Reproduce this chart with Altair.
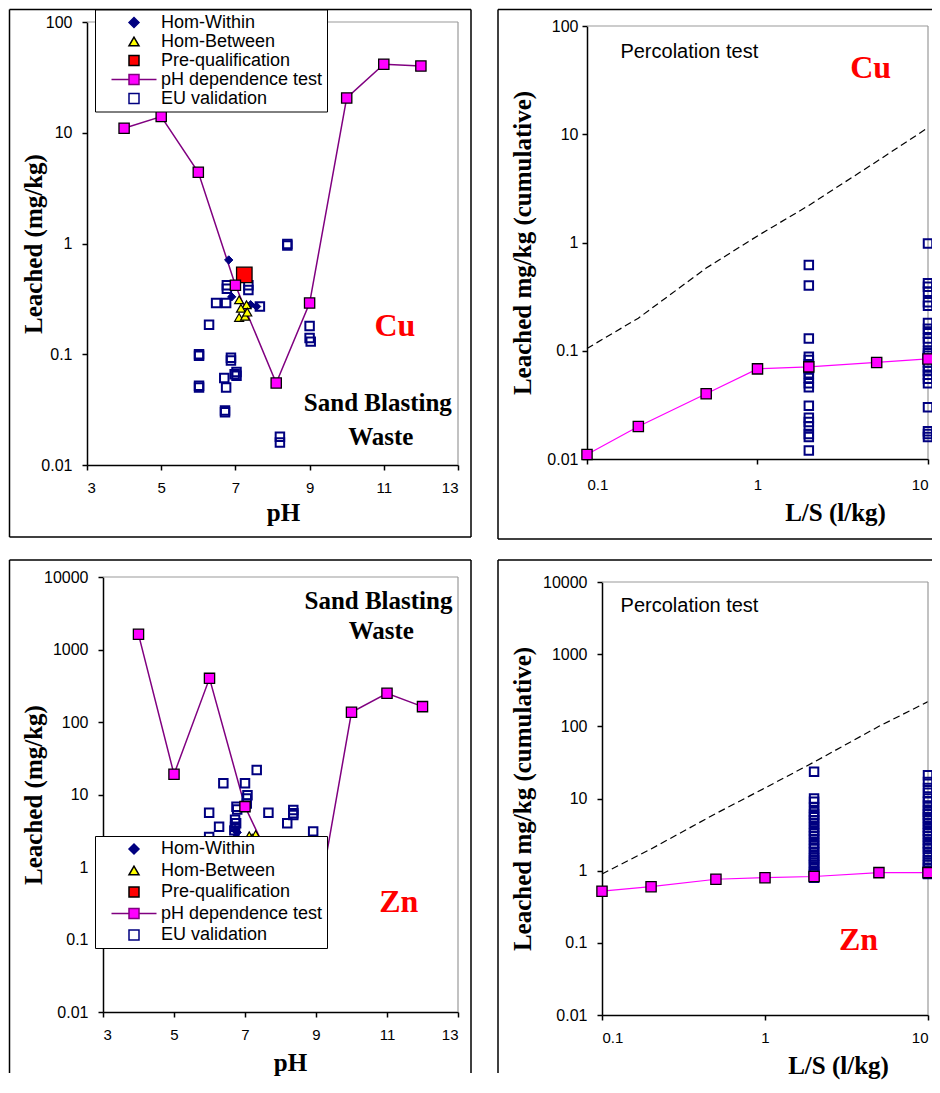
import altair as alt
import pandas as pd

# ---------------- series definitions ----------------
SERIES = ["Hom-Within", "Hom-Between", "Pre-qualification", "pH dependence test", "EU validation"]
SERIES_FILL = ["#000080", "#FFFF00", "#FF0000", "#FF00FF", "transparent"]
SERIES_STROKE = ["#000080", "#000000", "#000000", "#800080", "#000080"]
PH_LEGEND_PATH = "M-4.5,0H-1M1,0H4.5M-1,-1H1V1H-1Z"
SERIES_SHAPE = ["diamond", "triangle-up", "square", PH_LEGEND_PATH, "square"]

# ---------------- pH dependence test ----------------
ph_test_ph = [4, 5, 6, 7, 8.1, 9, 10, 11, 12]
ph_test_cu = [11, 14, 4.4, 0.42, 0.055, 0.29, 20.6, 41.6, 40]
ph_test_zn = [1620, 19, 400, 6.8, 0.5, 0.22, 136, 249, 163]

# ---------------- Cu, pH plot ----------------
homw_cu_ph = [6.82, 6.9, 7.41, 7.57]
homw_cu = [0.71, 0.33, 0.28, 0.27]
homb_cu_ph = [7.1, 7.3, 7.15, 7.1, 7.26, 7.32]
homb_cu = [0.31, 0.28, 0.26, 0.215, 0.22, 0.24]
pre_cu_ph = [7.24]
pre_cu = [0.52]
eu_cu_ph = [8.4, 8.4, 6.77, 6.77, 7.35, 7.35, 6.48, 6.75, 7.66, 6.29, 6.02, 6.02, 6.02, 6.02,
            6.88, 6.88, 7.03, 7.03, 6.98, 6.7, 6.75, 6.72, 6.72, 9.0, 9.0, 9.03, 8.2, 8.2]
eu_cu = [0.99, 0.96, 0.42, 0.39, 0.42, 0.38, 0.29, 0.29, 0.27, 0.185, 0.097, 0.1, 0.052, 0.05,
         0.093, 0.088, 0.069, 0.064, 0.066, 0.061, 0.05, 0.030, 0.031, 0.18, 0.14, 0.13, 0.018, 0.016]

# ---------------- Zn, pH plot ----------------
homw_zn_ph = [6.72, 6.78, 6.75]
homw_zn = [3.3, 3.0, 2.6]
homb_zn_ph = [7.12, 7.3, 7.2]
homb_zn = [2.7, 2.8, 2.5]
pre_zn_ph = [7.25]
pre_zn = [1.6]
eu_zn_ph = [6.39, 7.0, 7.33, 7.07, 7.05, 6.76, 6.78, 5.99, 7.66, 8.36, 8.36, 8.36, 6.27, 8.19,
            8.92, 6.72, 6.75, 6.72, 6.7, 5.99, 7.05]
eu_zn = [14.3, 14.3, 21.8, 9.8, 8.8, 6.8, 6.2, 5.6, 5.6, 6.1, 5.5, 5.2, 3.6, 4.0,
         3.1, 4.5, 4.0, 3.6, 3.2, 2.6, 7.5]

# ---------------- percolation test ----------------
ls_steps = [0.1, 0.2, 0.5, 1, 2, 5, 10]
perc_cu = [0.011, 0.02, 0.04, 0.068, 0.071, 0.078, 0.084]
limit_cu = [0.105, 0.2, 0.58, 1.15, 2.2, 5.6, 11.5]
perc_zn = [0.52, 0.6, 0.76, 0.8, 0.83, 0.94, 0.94]
limit_zn = [0.9, 2.0, 6.2, 14, 32, 100, 220]

eu_perc_cu_ls2 = [0.62, 0.40, 0.13, 0.088, 0.082, 0.075, 0.068, 0.062, 0.056, 0.05, 0.046,
                  0.031, 0.024, 0.022, 0.020, 0.017, 0.016, 0.012]
eu_perc_cu_ls10 = [0.98, 0.42, 0.39, 0.35, 0.28, 0.26, 0.18, 0.16, 0.145, 0.13, 0.12, 0.1, 0.095,
                   0.09, 0.085, 0.078, 0.07, 0.065, 0.06, 0.055, 0.05, 0.03, 0.018, 0.017, 0.016]
eu_perc_zn_ls2 = [23.5, 10, 9, 7.5, 6.5, 6, 5.5, 5, 4.5, 4, 3.6, 3.3, 3, 2.7, 2.4, 2.2, 2, 1.8,
                  1.6, 1.5, 1.4, 1.3, 1.2, 1.1, 1.0, 0.95, 0.9, 0.85, 0.8]
eu_perc_zn_ls10 = [21, 17, 14, 12, 10, 9, 8, 7, 6.5, 6, 5.5, 5, 4.5, 4, 3.6, 3.3, 3, 2.7, 2.4,
                   2.2, 2, 1.8, 1.6, 1.4, 1.3, 1.2, 1.1, 1.0, 0.95, 0.9]

# ---------------- annotations (data coordinates) ----------------
tl_cu_label = ("Cu", 11.3, 0.179)
tl_sand = [("Sand Blasting", 10.84, 0.036), ("Waste", 10.92, 0.018)]
bl_zn_label = ("Zn", 11.33, 0.33)
bl_sand = [("Sand Blasting", 10.76, 4710), ("Waste", 10.84, 1800)]
tr_perc = ("Percolation test", 0.157, 58)
tr_cu_label = ("Cu", 4.61, 40.7)
br_perc = ("Percolation test", 0.130, 4640)
br_zn_label = ("Zn", 3.75, 0.11)

SERIF = "Liberation Serif"
SANS = "Liberation Sans"
DUMMY = pd.DataFrame({"k": [0]})


def mk_axis(values, title, tx, ty, pad, offset, label_size):
    return alt.Axis(values=values, title=title, titleX=tx, titleY=ty, titleAlign="center",
                    titleBaseline="middle", labelPadding=pad, offset=offset, format="~g",
                    grid=False, tickSize=5, labelFontSize=label_size)


def frame_layers(segments):
    out = []
    for x1, y1, x2, y2 in segments:
        out.append(alt.Chart(DUMMY).mark_rule(color="black", strokeWidth=1.5).encode(
            x=alt.value(x1), x2=alt.value(x2), y=alt.value(y1), y2=alt.value(y2)))
    return out


def border_layers(X, Y, xd, yd):
    top_df = pd.DataFrame({"x": [xd[0]], "x2": [xd[1]], "y": [yd[1]]})
    right_df = pd.DataFrame({"x": [xd[1]], "y": [yd[0]], "y2": [yd[1]]})
    top = alt.Chart(top_df).mark_rule(color="#999999", strokeWidth=1.2).encode(
        x=X, x2=alt.X2("x2:Q"), y=Y)
    right = alt.Chart(right_df).mark_rule(color="#999999", strokeWidth=1.2).encode(
        x=X, y=Y, y2=alt.Y2("y2:Q"))
    return [top, right]


def text_layer(X, Y, items, color, size, weight, font, align="center"):
    df = pd.DataFrame(items, columns=["t", "x", "y"])
    return alt.Chart(df).mark_text(color=color, fontSize=size, fontWeight=weight, font=font,
                                   align=align, baseline="middle").encode(x=X, y=Y, text="t:N")


def series_df(pairs):
    rows = []
    for name, xs, ys in pairs:
        for a, b in zip(xs, ys):
            rows.append({"series": name, "x": a, "y": b})
    return pd.DataFrame(rows)


def ph_panel(pairs, xrange, yrange, ydomain, width, height, xaxis, yaxis, legend, frames, texts):
    X = alt.X("x:Q", scale=alt.Scale(domain=[3, 13], range=xrange, nice=False, zero=False), axis=xaxis)
    Y = alt.Y("y:Q", scale=alt.Scale(type="log", domain=ydomain, range=yrange, nice=False), axis=yaxis)
    fill = alt.Fill("series:N", scale=alt.Scale(domain=SERIES, range=SERIES_FILL), legend=legend)
    stroke = alt.Stroke("series:N", scale=alt.Scale(domain=SERIES, range=SERIES_STROKE), legend=legend)
    shape = alt.Shape("series:N", scale=alt.Scale(domain=SERIES, range=SERIES_SHAPE), legend=legend)
    df = series_df(pairs)
    line_df = df[df.series == "pH dependence test"]

    def pts(name, size, sw):
        return alt.Chart(df).transform_filter(alt.datum.series == name).mark_point(
            filled=True, size=size, strokeWidth=sw, opacity=1).encode(
            x=X, y=Y, fill=fill, stroke=stroke, shape=shape)

    line = alt.Chart(line_df).mark_line(color="#800080", strokeWidth=1.5).encode(x=X, y=Y)
    ph_pts = alt.Chart(df).transform_filter(alt.datum.series == "pH dependence test").mark_point(
        filled=True, shape="square", size=105, stroke="black", strokeWidth=1.3, opacity=1).encode(
        x=X, y=Y, fill=fill)
    layers = [line] + frame_layers(frames) + border_layers(X, Y, [3, 13], ydomain) + [
        pts("EU validation", 72, 2),
        pts("Pre-qualification", 240, 1.3),
        ph_pts,
        pts("Hom-Within", 70, 1),
        pts("Hom-Between", 80, 1.2),
    ] + [text_layer(X, Y, *t) for t in texts]
    return alt.layer(*layers).properties(width=width, height=height)


def perc_panel(perc, limit, eu2, eu10, xrange, yrange, ydomain, width, height,
               xaxis, yaxis, frames, texts):
    X = alt.X("x:Q", scale=alt.Scale(type="log", domain=[0.1, 10], range=xrange, nice=False), axis=xaxis)
    Y = alt.Y("y:Q", scale=alt.Scale(type="log", domain=ydomain, range=yrange, nice=False), axis=yaxis)
    df_line = pd.DataFrame({"x": ls_steps, "y": perc})
    df_lim = pd.DataFrame({"x": ls_steps, "y": limit})
    df_eu = pd.DataFrame({"x": [2] * len(eu2) + [10] * len(eu10), "y": eu2 + eu10})
    layers = [
        alt.Chart(df_lim).mark_line(color="black", strokeWidth=1.2, strokeDash=[7, 4]).encode(x=X, y=Y),
    ] + frame_layers(frames) + border_layers(X, Y, [0.1, 10], ydomain) + [
        alt.Chart(df_eu).mark_point(filled=False, shape="square", size=72, stroke="#000080",
                                    strokeWidth=2, opacity=1).encode(x=X, y=Y),
        alt.Chart(df_line).mark_line(color="#FF00FF", strokeWidth=1.2).encode(x=X, y=Y),
        alt.Chart(df_line).mark_point(filled=True, shape="square", size=105, fill="#FF00FF",
                                      stroke="black", strokeWidth=1.3, opacity=1).encode(x=X, y=Y),
    ] + [text_layer(X, Y, *t) for t in texts]
    return alt.layer(*layers).properties(width=width, height=height)


def mk_legend(lx, ly, rowpad, pad):
    return alt.Legend(title=None, orient="none", legendX=lx, legendY=ly, direction="vertical",
                      fillColor="white", strokeColor="black", padding=pad, symbolSize=100,
                      symbolStrokeWidth=1.5, labelFontSize=18, labelFont=SANS, labelColor="black",
                      labelLimit=300, rowPadding=rowpad, symbolOffset=26, labelOffset=18)


# ---------------- top-left: Cu vs pH ----------------
tl = ph_panel(
    [("pH dependence test", ph_test_ph, ph_test_cu), ("EU validation", eu_cu_ph, eu_cu),
     ("Hom-Within", homw_cu_ph, homw_cu), ("Hom-Between", homb_cu_ph, homb_cu),
     ("Pre-qualification", pre_cu_ph, pre_cu)],
    [0, 371], [443, 0], [0.01, 100], 371, 443,
    mk_axis([3, 5, 7, 9, 11, 13], "pH", 196, 47, 10, 0, 15),
    mk_axis([0.01, 0.1, 1, 10, 100], "Leached (mg/kg)", -54, 221.5, 10, 0, 16),
    mk_legend(8, -12.5, 1, 4),
    [(-77.5, -12.5, 384, -12.5), (-77.5, 515, 384, 515), (-77.5, -12.5, -77.5, 515),
     (384, -12.5, 384, 515)],
    [([tl_cu_label], "#FF0000", 32, "bold", SERIF),
     (tl_sand, "black", 25, "bold", SERIF)],
)

# ---------------- top-right: Cu percolation ----------------
tr = perc_panel(
    perc_cu, limit_cu, eu_perc_cu_ls2, eu_perc_cu_ls10,
    [0, 341], [437, 4], [0.01, 100], 341, 443,
    mk_axis([0.1, 1, 10], "L/S (l/kg)", 248, 53, 13, -6, 15),
    mk_axis([0.01, 0.1, 1, 10, 100], "Leached mg/kg (cumulative)", -65, 220.5, 4, 0, 16),
    [(-89, -12.5, 345, -12.5), (-89, 517, 345, 517), (-89, -12.5, -89, 517)],
    [([tr_perc], "black", 20, "normal", SANS, "left"),
     ([tr_cu_label], "#FF0000", 32, "bold", SERIF)],
)

# ---------------- bottom-left: Zn vs pH ----------------
bl = ph_panel(
    [("pH dependence test", ph_test_ph, ph_test_zn), ("EU validation", eu_zn_ph, eu_zn),
     ("Hom-Within", homw_zn_ph, homw_zn), ("Hom-Between", homb_zn_ph, homb_zn),
     ("Pre-qualification", pre_zn_ph, pre_zn)],
    [16, 371], [435, 0], [0.01, 10000], 371, 438,
    mk_axis([3, 5, 7, 9, 11, 13], "pH", 203, 50, 10, -3, 15),
    mk_axis([0.01, 0.1, 1, 10, 100, 1000, 10000], "Leached (mg/kg)", -70, 217.5, 10, -16, 16),
    mk_legend(8, 259, 3.5, 4),
    [(-77.5, -17, 384, -17), (-77.5, -17, -77.5, 496), (384, -17, 384, 496)],
    [([bl_zn_label], "#FF0000", 32, "bold", SERIF),
     (bl_sand, "black", 25, "bold", SERIF)],
)

# ---------------- bottom-right: Zn percolation ----------------
br = perc_panel(
    perc_zn, limit_zn, eu_perc_zn_ls2, eu_perc_zn_ls10,
    [15, 341], [438, 5], [0.01, 10000], 341, 438,
    mk_axis([0.1, 1, 10], "L/S (l/kg)", 251, 50, 10, 0, 15),
    mk_axis([0.01, 0.1, 1, 10, 100, 1000, 10000], "Leached mg/kg (cumulative)", -80, 221.5, 10, -15, 16),
    [(-89, -17, 345, -17), (-89, -17, -89, 496)],
    [([br_perc], "black", 20, "normal", SANS, "left"),
     ([br_zn_label], "#FF0000", 32, "bold", SERIF)],
)

chart = alt.concat(
    tl, tr, bl, br, columns=2, spacing={"row": 112, "column": 129}, bounds="flush", align="each"
).resolve_scale(
    fill="independent", stroke="independent", shape="independent"
).properties(
    padding={"left": 0, "top": 0, "right": -5, "bottom": 3}
).configure(
    font=SANS
).configure_view(
    strokeWidth=0
).configure_axis(
    domainColor="black", domainWidth=1.5, tickColor="black", tickWidth=1.5,
    labelFont=SANS, labelColor="black",
    titleFont=SERIF, titleFontSize=25, titleFontWeight="bold", titleColor="black"
)

chart.save("out.html", embed_options={"renderer": "svg", "actions": False})
